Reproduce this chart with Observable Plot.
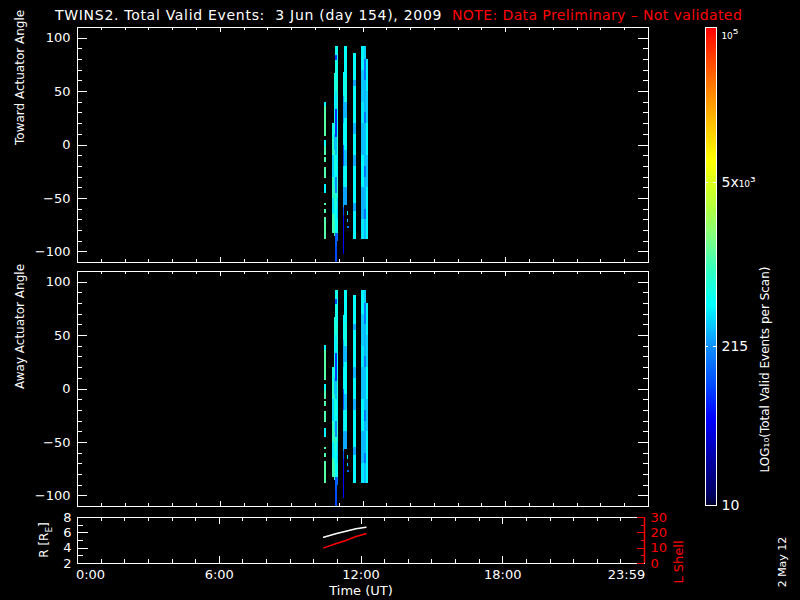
<!DOCTYPE html>
<html><head><meta charset="utf-8">
<script src="https://cdn.jsdelivr.net/npm/d3@7"></script>
<script src="https://cdn.jsdelivr.net/npm/@observablehq/plot@0.6"></script>
<style>
html,body{margin:0;padding:0;background:#000;}
#wrap{position:relative;width:800px;height:600px;background:#000;overflow:hidden;font-family:"DejaVu Sans",sans-serif;color:#fff;}
#wrap svg{position:absolute;left:0;top:0;}
.lbl{position:absolute;white-space:nowrap;line-height:1;}
.rot{transform:translate(-50%,-50%) rotate(-90deg);}
</style></head><body><div id="wrap">
<div class="lbl" style="left:55px;top:8px;font-size:14px;letter-spacing:0.7px;color:#fff">TWINS2. Total Valid Events:&nbsp; 3 Jun (day 154), 2009</div>
<div class="lbl" style="left:452px;top:8px;font-size:14px;letter-spacing:0.4px;color:#f00">NOTE: Data Preliminary – Not validated</div>
<div class="lbl rot" style="left:46px;top:540px;font-size:12px;">R [R<sub style="font-size:9px">E</sub>]</div>
<div class="lbl rot" style="left:782px;top:562px;font-size:11px;">2 May 12</div>
</div>
<script>
// ---------- data ----------
const hourTicks = [0,1,2,3,4,5,6,7,8,9,10,11,12,13,14,15,16,17,18,19,20,21,22,23,24];
const hourMajor = [0,6,12,18,24];
const timeLabels = ["0:00","6:00","12:00","18:00","23:59"];
const angleMajor = [-100,-50,0,50,100];
const angleMinor = [-110,-100,-90,-80,-70,-60,-50,-40,-30,-20,-10,0,10,20,30,40,50,60,70,80,90,100,110];
const rMajor = [2,4,6,8];
const rMinor = [2,3,4,5,6,7,8];
const lMajor = [0,10,20,30];
const lMinor = [0,5,10,15,20,25,30];
const cbTickValues = [10,215,5000];
const cbTickLabels = ["10","215","5x\u2081\u2080\u00b3"];
const cbTopValue = [100000];
const cbTopLabel = "\u2081\u2080\u2075";

// segments: [timeStart(h), timeEnd(h), angleTop, angleBottom, events]
const towardSegs = [
 [10.39,10.46,39.6,35.7,450],[10.39,10.46,35.7,7.5,1200],[10.39,10.46,3.8,-1,480],[10.39,10.46,-1,-9.7,1100],
 [10.39,10.46,-11.9,-16,1200],[10.39,10.46,-20.7,-31.6,1150],[10.39,10.46,-37,-45.8,450],[10.39,10.46,-55.2,-56.7,1150],
 [10.39,10.46,-60.5,-64.5,1150],[10.39,10.46,-67.7,-88.7,1200],
 [10.72,10.79,20,5,600],[10.72,10.79,5,-10,850],[10.72,10.79,-10,-30,350],[10.72,10.79,-30,-50,850],[10.72,10.79,-50,-65,400],[10.72,10.79,-65,-83,1000],
 [10.79,10.86,67,45,750],[10.79,10.86,45,30,500],[10.79,10.86,30,10,680],[10.79,10.86,10,-5,300],[10.79,10.86,-5,-25,750],
 [10.79,10.86,-25,-40,450],[10.79,10.86,-40,-55,900],[10.79,10.86,-55,-70,600],[10.79,10.86,-70,-86,950],
 [10.86,10.91,92.2,84,600],[10.86,10.91,84,79,90],[10.86,10.91,79,50,650],[10.86,10.91,50,33,400],[10.86,10.91,33,7,80],
 [10.86,10.91,7,-10,300],[10.86,10.91,-10,-30,550],[10.86,10.91,-30,-45,200],[10.86,10.91,-45,-60,650],[10.86,10.91,-60,-83,500],
 [10.86,10.91,-83,-95,120],[10.86,10.91,-95,-110,100],
 [10.91,10.97,92.2,60,550],[10.91,10.97,60,35,750],[10.91,10.97,35,10,500],[10.91,10.97,10,-10,680],[10.91,10.97,-10,-30,450],
 [10.91,10.97,-30,-50,750],[10.91,10.97,-50,-70,350],[10.91,10.97,-70,-83,600],[10.91,10.97,-83,-90,150],
 [11.18,11.24,67.8,45,500],[11.18,11.24,45,20,250],[11.18,11.24,20,0,450],[11.18,11.24,0,-20,120],[11.18,11.24,-20,-40,400],
 [11.18,11.24,-40,-58.4,250],[11.18,11.24,-58.4,-66,100],[11.18,11.24,-66,-102.3,55],
 [11.24,11.33,92.2,62,500],[11.24,11.33,62,40,620],[11.24,11.33,40,25,280],[11.24,11.33,25,-5,520],[11.24,11.33,-5,-20,300],
 [11.24,11.33,-20,-40,550],[11.24,11.33,-40,-56.8,250],
 [11.33,11.39,-62,-66,500],[11.33,11.39,-70,-73,300],[11.36,11.42,-76,-78,150],
 [11.61,11.72,85.9,60,500],[11.61,11.72,60,55,250],[11.61,11.72,55,20,520],[11.61,11.72,20,10,280],[11.61,11.72,10,-10,500],
 [11.61,11.72,-10,-20,260],[11.61,11.72,-20,-55,480],[11.61,11.72,-55,-62,250],[11.61,11.72,-62,-88.8,450],
 [11.95,12.05,92.2,70,450],[11.95,12.05,70,40,320],[11.95,12.05,40,20,400],[11.95,12.05,20,-10,300],[11.95,12.05,-10,-40,450],
 [11.95,12.05,-40,-70,280],[11.95,12.05,-70,-88.8,400],
 [12.05,12.14,92.2,80,350],[12.05,12.14,80,60,150],[12.05,12.14,60,30,280],[12.05,12.14,30,20,160],[12.05,12.14,20,-20,300],
 [12.05,12.14,-20,-30,150],[12.05,12.14,-30,-60,280],[12.05,12.14,-60,-70,150],[12.05,12.14,-70,-88.8,300],
 [12.14,12.23,79.7,50,450],[12.14,12.23,50,20,350],[12.14,12.23,20,-10,500],[12.14,12.23,-10,-40,320],[12.14,12.23,-40,-88.8,450]
];
const awaySegs = [
 [10.39,10.46,40.5,35.7,450],[10.39,10.46,35.7,7.5,1200],[10.39,10.46,3.8,-1,480],[10.39,10.46,-1,-9.7,1100],
 [10.39,10.46,-11.9,-16,1200],[10.39,10.46,-20.7,-31.6,1150],[10.39,10.46,-37,-45.8,450],[10.39,10.46,-55.2,-56.7,1150],
 [10.39,10.46,-60.5,-64.5,1150],[10.39,10.46,-67.7,-88.7,1200],
 [10.72,10.79,20,5,650],[10.72,10.79,5,-10,800],[10.72,10.79,-10,-30,380],[10.72,10.79,-30,-50,900],[10.72,10.79,-50,-65,420],[10.72,10.79,-65,-83,1000],
 [10.79,10.86,67,45,720],[10.79,10.86,45,30,520],[10.79,10.86,30,10,680],[10.79,10.86,10,-5,320],[10.79,10.86,-5,-25,750],
 [10.79,10.86,-25,-40,450],[10.79,10.86,-40,-55,900],[10.79,10.86,-55,-70,600],[10.79,10.86,-70,-86,950],
 [10.86,10.91,92.2,84,600],[10.86,10.91,84,79,100],[10.86,10.91,79,50,650],[10.86,10.91,50,33,420],[10.86,10.91,33,7,85],
 [10.86,10.91,7,-10,300],[10.86,10.91,-10,-30,550],[10.86,10.91,-30,-45,210],[10.86,10.91,-45,-60,650],[10.86,10.91,-60,-83,500],
 [10.86,10.91,-83,-95,120],[10.86,10.91,-95,-110,100],
 [10.91,10.97,92.2,60,560],[10.91,10.97,60,35,740],[10.91,10.97,35,10,500],[10.91,10.97,10,-10,680],[10.91,10.97,-10,-30,450],
 [10.91,10.97,-30,-50,750],[10.91,10.97,-50,-70,360],[10.91,10.97,-70,-83,600],[10.91,10.97,-83,-90,150],
 [11.18,11.24,68.5,45,500],[11.18,11.24,45,20,260],[11.18,11.24,20,0,450],[11.18,11.24,0,-20,130],[11.18,11.24,-20,-40,400],
 [11.18,11.24,-40,-58.4,250],[11.18,11.24,-58.4,-66,100],[11.18,11.24,-66,-102.3,55],
 [11.24,11.33,92.2,62,500],[11.24,11.33,62,40,620],[11.24,11.33,40,25,290],[11.24,11.33,25,-5,520],[11.24,11.33,-5,-20,300],
 [11.24,11.33,-20,-40,550],[11.24,11.33,-40,-56.8,260],
 [11.33,11.39,-62,-66,500],[11.33,11.39,-70,-73,300],[11.36,11.42,-76,-78,150],
 [11.61,11.72,87.5,60,500],[11.61,11.72,60,55,260],[11.61,11.72,55,20,520],[11.61,11.72,20,10,280],[11.61,11.72,10,-10,500],
 [11.61,11.72,-10,-20,270],[11.61,11.72,-20,-55,480],[11.61,11.72,-55,-62,250],[11.61,11.72,-62,-88.8,450],
 [11.95,12.05,92.2,70,450],[11.95,12.05,70,40,330],[11.95,12.05,40,20,400],[11.95,12.05,20,-10,310],[11.95,12.05,-10,-40,450],
 [11.95,12.05,-40,-70,290],[11.95,12.05,-70,-88.8,400],
 [12.05,12.14,92.2,80,340],[12.05,12.14,80,60,160],[12.05,12.14,60,30,280],[12.05,12.14,30,20,170],[12.05,12.14,20,-20,300],
 [12.05,12.14,-20,-30,160],[12.05,12.14,-30,-60,280],[12.05,12.14,-60,-70,160],[12.05,12.14,-70,-88.8,300],
 [12.14,12.23,79.7,50,450],[12.14,12.23,50,20,350],[12.14,12.23,20,-10,500],[12.14,12.23,-10,-40,330],[12.14,12.23,-40,-88.8,450]
];
const orbitTime = [10.42,10.93,11.36,11.79,12.21];
const orbitR = [5.43,5.87,6.21,6.52,6.73];
const orbitL = [10.2,12.9,15.0,17.6,19.4];

// ---------- colour map (IDL-like rainbow) ----------
const cStops = [0,0.02,0.1,0.18,0.25,0.334,0.42,0.49,0.56,0.62,0.72,0.8,0.87,1];
const cCols = ["#000030","#000060","#0000a8","#0000ff","#0048ff","#1090ff","#00ffff","#30ffc0","#80ff80","#b0ff40","#ffff00","#ffc000","#ff8000","#ff0000"];
function cmap(t){
  t = Math.max(0, Math.min(1, t));
  let i = 1; while (i < cStops.length - 1 && t > cStops[i]) i++;
  const u = (t - cStops[i-1]) / (cStops[i] - cStops[i-1]);
  return d3.interpolateRgb(cCols[i-1], cCols[i])(Math.max(0, Math.min(1, u)));
}
const colorScale = {type:"log", domain:[10,1e5], interpolate: cmap};
const FONT = "DejaVu Sans, sans-serif";
const baseStyle = {background:"transparent", color:"white", fontFamily:FONT, fontSize:"13px", overflow:"visible"};
const wrap = document.getElementById("wrap");

// inward IDL-style ticks: short rules, length given in pixels and converted to data units
function xt(values, len, yd, fh, anchor, color="white"){
  const k = (yd[1] - yd[0]) / fh * len;
  const a = anchor === "bottom" ? yd[0] : yd[1];
  const b = anchor === "bottom" ? yd[0] + k : yd[1] - k;
  return Plot.ruleX(values, {x:d=>d, y1:()=>a, y2:()=>b, stroke:color, strokeWidth:1, shapeRendering:"crispEdges"});
}
function yt(values, len, xd, fw, anchor, color="white"){
  const k = (xd[1] - xd[0]) / fw * len;
  const a = anchor === "left" ? xd[0] : xd[1];
  const b = anchor === "left" ? xd[0] + k : xd[1] - k;
  return Plot.ruleY(values, {y:d=>d, x1:()=>a, x2:()=>b, stroke:color, strokeWidth:1, shapeRendering:"crispEdges"});
}

function anglePanel(top, bottom, segs, title){
  const fw = 648 - 77, fh = bottom - top, xd = [0,24], yd = [-110,110];
  return Plot.plot({
    width:800, height:600, marginLeft:77, marginRight:152, marginTop:top, marginBottom:600-bottom,
    style: baseStyle,
    x:{domain:xd, axis:null}, y:{domain:yd, axis:null}, color: colorScale,
    marks:[
      Plot.rect(segs, {x1:d=>d[0], x2:d=>d[1], y1:d=>d[3], y2:d=>d[2], fill:d=>d[4], inset:0, shapeRendering:"crispEdges"}),
      Plot.frame({stroke:"white", shapeRendering:"crispEdges"}),
      xt(hourTicks, 3, yd, fh, "bottom"), xt(hourMajor, 5, yd, fh, "bottom"),
      xt(hourTicks, 3, yd, fh, "top"), xt(hourMajor, 5, yd, fh, "top"),
      yt(angleMinor, 5, xd, fw, "left"), yt(angleMajor, 10, xd, fw, "left"),
      yt(angleMinor, 5, xd, fw, "right"), yt(angleMajor, 10, xd, fw, "right"),
      Plot.axisY(angleMajor, {anchor:"left", tickSize:0, tickPadding:7, label:null, color:"white", fontSize:13}),
      Plot.text([title], {text:d=>d, frameAnchor:"left", dx:-57, rotate:-90, fill:"white", fontSize:12})
    ]
  });
}
wrap.appendChild(anglePanel(27, 262, towardSegs, "Toward Actuator Angle"));
wrap.appendChild(anglePanel(271, 506, awaySegs, "Away Actuator Angle"));

// orbit panel (R)
const orbit = orbitTime.map((t,i)=>({t, r:orbitR[i], l:orbitL[i]}));
const lbl = v => timeLabels[hourMajor.indexOf(v)];
const ow = 644 - 77, oh = 563 - 517, oxd = [0,24], ryd = [2,8], lyd = [0,30];
wrap.appendChild(Plot.plot({
  width:800, height:600, marginLeft:77, marginRight:156, marginTop:517, marginBottom:37,
  style: baseStyle,
  x:{domain:oxd, axis:null}, y:{domain:ryd, axis:null},
  marks:[
    Plot.frame({stroke:"white", shapeRendering:"crispEdges"}),
    xt(hourTicks, 4, ryd, oh, "bottom"), xt(hourMajor, 7, ryd, oh, "bottom"),
    xt(hourTicks, 4, ryd, oh, "top"), xt(hourMajor, 7, ryd, oh, "top"),
    yt(rMinor, 6, oxd, ow, "left"), yt(rMajor, 11, oxd, ow, "left"),
    Plot.axisY(rMajor, {anchor:"left", tickSize:0, tickPadding:6, label:null, color:"white", fontSize:13}),
    Plot.axisX([6,12,18], {anchor:"bottom", tickSize:0, tickPadding:6, tickFormat:lbl, label:null, color:"white", fontSize:13}),
    Plot.axisX([0], {anchor:"bottom", tickSize:0, tickPadding:6, dx:13, tickFormat:lbl, label:null, color:"white", fontSize:13}),
    Plot.axisX([24], {anchor:"bottom", tickSize:0, tickPadding:6, dx:-18, tickFormat:lbl, label:null, color:"white", fontSize:13}),
    Plot.text(["Time (UT)"], {text:d=>d, frameAnchor:"bottom", dy:31, fill:"white", fontSize:13}),
    Plot.line(orbit, {x:"t", y:"r", stroke:"white", strokeWidth:1.5})
  ]
}));
// orbit panel (L shell, red right axis)
wrap.appendChild(Plot.plot({
  width:800, height:600, marginLeft:77, marginRight:156, marginTop:517, marginBottom:37,
  style: baseStyle,
  x:{domain:oxd, axis:null}, y:{domain:lyd, axis:null},
  marks:[
    Plot.ruleX([24], {stroke:"red", strokeWidth:1.5}),
    yt(lMinor, 3, oxd, ow, "right", "red"), yt(lMajor, 7, oxd, ow, "right", "red"),
    Plot.axisY(lMajor, {anchor:"right", tickSize:0, tickPadding:6, label:null, color:"red", fontSize:13}),
    Plot.text(["L Shell"], {text:d=>d, frameAnchor:"right", dx:34, rotate:-90, fill:"red", fontSize:13}),
    Plot.line(orbit, {x:"t", y:"l", stroke:"red", strokeWidth:1.5})
  ]
}));

// colour bar
const cbSteps = d3.range(0, 240).map(i => [10 ** (1 + 4 * i / 240), 10 ** (1 + 4 * (i + 1) / 240)]);
wrap.appendChild(Plot.plot({
  width:800, height:600, marginLeft:705, marginRight:84, marginTop:27, marginBottom:95,
  style: baseStyle,
  x:{domain:[0,1], axis:null}, y:{type:"log", domain:[10,1e5], axis:null}, color: colorScale,
  marks:[
    Plot.rect(cbSteps, {x1:()=>0, x2:()=>1, y1:d=>d[0], y2:d=>d[1], fill:d=>Math.sqrt(d[0]*d[1]), inset:0, shapeRendering:"crispEdges"}),
    Plot.frame({stroke:"white", shapeRendering:"crispEdges"}),
    yt([215,5000], 3, [0,1], 11, "left"), yt([215,5000], 3, [0,1], 11, "right"),
    Plot.text(cbTickValues, {x:()=>1, y:d=>d, text:(d,i)=>cbTickLabels[i], dx:5, textAnchor:"start", fill:"white", fontSize:14}),
    Plot.text(cbTopValue, {x:()=>1, y:d=>d, text:()=>cbTopLabel, dx:5, dy:7, textAnchor:"start", fill:"white", fontSize:14}),
    Plot.text(["LOG\u2081\u2080(Total Valid Events per Scan)"], {text:d=>d, frameAnchor:"right", dx:49, rotate:-90, fill:"white", fontSize:12})
  ]
}));
</script></body></html>
